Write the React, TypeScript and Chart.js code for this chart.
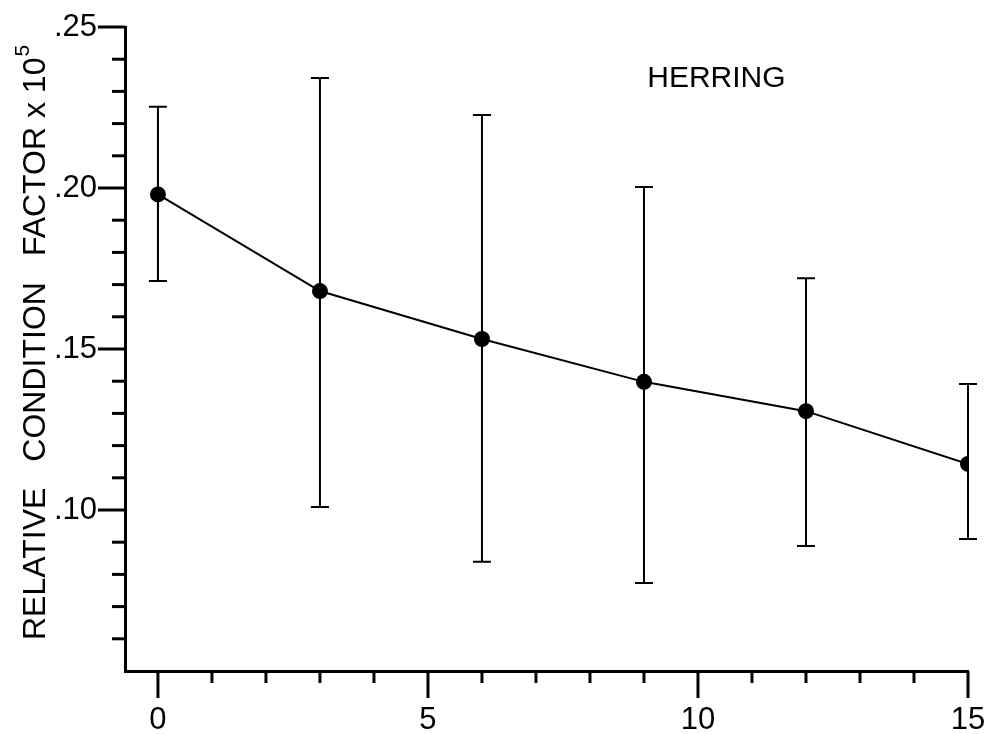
import React, { useEffect, useRef } from "react";
import { Chart, registerables } from "chart.js";

Chart.register(...registerables);

// ---- data ----
const ages = [0, 3, 6, 9, 12, 15];
const condition = [0.198, 0.168, 0.1531, 0.1398, 0.1307, 0.1143];
const upper = [0.2252, 0.2342, 0.2227, 0.2003, 0.172, 0.1391];
const lower = [0.1711, 0.1009, 0.0839, 0.0773, 0.0888, 0.091];
const xTickValues = [0, 1, 2, 3, 4, 5, 6, 7, 8, 9, 10, 11, 12, 13, 14, 15];
const xLabelValues = [0, 5, 10, 15];
const yTickValues = [0.06, 0.07, 0.08, 0.09, 0.1, 0.11, 0.12, 0.13, 0.14, 0.15, 0.16, 0.17, 0.18, 0.19, 0.2, 0.21, 0.22, 0.23, 0.24, 0.25];
const yLabelValues = [0.1, 0.15, 0.2, 0.25];
const yTitleWords = ["RELATIVE", "CONDITION", "FACTOR x 10"];
const yTitleSup = "5";
const annotation = "HERRING";

const FONT = "'Liberation Sans', Arial, Helvetica, sans-serif";

const near = (a: number, b: number) => Math.abs(a - b) < 1e-6;

const decorPlugin = {
  id: "decor",
  beforeDatasetsDraw(chart: any) {
    const { ctx } = chart;
    const xs = chart.scales.x;
    const ys = chart.scales.y;
    ctx.save();
    ctx.strokeStyle = "#000";
    ctx.lineWidth = 2;
    const cap = 9;
    ages.forEach((a, i) => {
      const px = xs.getPixelForValue(a);
      const pt = ys.getPixelForValue(upper[i]);
      const pb = ys.getPixelForValue(lower[i]);
      ctx.beginPath();
      ctx.moveTo(px, pt);
      ctx.lineTo(px, pb);
      ctx.moveTo(px - cap, pt);
      ctx.lineTo(px + cap, pt);
      ctx.moveTo(px - cap, pb);
      ctx.lineTo(px + cap, pb);
      ctx.stroke();
    });
    ctx.restore();
  },
  afterDraw(chart: any) {
    const { ctx, chartArea } = chart;
    const xs = chart.scales.x;
    const ys = chart.scales.y;
    ctx.save();
    ctx.strokeStyle = "#000";
    ctx.lineWidth = 3;
    ctx.lineCap = "butt";
    // y ticks
    yTickValues.forEach((v) => {
      const major = yLabelValues.some((l) => near(l, v));
      const len = major ? 27 : 13;
      const py = ys.getPixelForValue(v);
      ctx.beginPath();
      ctx.moveTo(chartArea.left, py);
      ctx.lineTo(chartArea.left - len, py);
      ctx.stroke();
    });
    // x ticks
    xTickValues.forEach((v) => {
      const major = xLabelValues.some((l) => near(l, v));
      const len = major ? 27 : 12;
      const px = xs.getPixelForValue(v);
      ctx.beginPath();
      ctx.moveTo(px, chartArea.bottom);
      ctx.lineTo(px, chartArea.bottom + len);
      ctx.stroke();
    });

    // annotation
    ctx.fillStyle = "#000";
    ctx.font = `30px ${FONT}`;
    ctx.textAlign = "left";
    ctx.textBaseline = "alphabetic";
    ctx.fillText(annotation, xs.getPixelForValue(9.06), ys.getPixelForValue(0.2314));

    // y title (rotated)
    ctx.translate(45, 640);
    ctx.rotate(-Math.PI / 2);
    ctx.font = `32px ${FONT}`;
    const gap = 26;
    let x = 0;
    yTitleWords.forEach((w) => {
      ctx.fillText(w, x, 0);
      x += ctx.measureText(w).width + gap;
    });
    x -= gap;
    ctx.font = `21px ${FONT}`;
    ctx.fillText(yTitleSup, x + 1, -16);
    ctx.restore();
  },
};

export default function App() {
  const ref = useRef<HTMLCanvasElement | null>(null);
  useEffect(() => {
    if (!ref.current) return;
    const chart = new Chart(ref.current, {
      type: "line",
      data: {
        datasets: [
          {
            data: ages.map((a, i) => ({ x: a, y: condition[i] })),
            borderColor: "#000",
            backgroundColor: "#000",
            borderWidth: 2,
            pointRadius: 8,
            pointBackgroundColor: "#000",
            pointBorderWidth: 0,
            tension: 0,
            fill: false,
          },
        ],
      },
      plugins: [decorPlugin],
      options: {
        responsive: false,
        animation: false,
        events: [],
        layout: { padding: { top: 27, right: 22, left: 0, bottom: 0 } },
        plugins: {
          legend: { display: false },
          tooltip: { enabled: false },
          title: { display: false },
        },
        scales: {
          x: {
            type: "linear",
            min: -0.61,
            max: 15,
            afterBuildTicks: (s: any) => {
              s.ticks = xLabelValues.map((v) => ({ value: v }));
            },
            afterFit: (s: any) => {
              s.height = 63;
            },
            border: { display: true, color: "#000", width: 3 },
            grid: { display: false, drawTicks: true, tickLength: 27 },
            ticks: {
              autoSkip: false,
              maxRotation: 0,
              padding: 4,
              color: "#000",
              font: { family: FONT, size: 31 },
              callback: (v: any) => String(Math.round(Number(v))),
            },
          },
          y: {
            type: "linear",
            min: 0.05,
            max: 0.25,
            afterBuildTicks: (s: any) => {
              s.ticks = yLabelValues.map((v) => ({ value: v }));
            },
            afterFit: (s: any) => {
              s.width = 125;
            },
            border: { display: true, color: "#000", width: 3 },
            grid: { display: false, drawTicks: true, tickLength: 27 },
            ticks: {
              autoSkip: false,
              padding: 1,
              color: "#000",
              font: { family: FONT, size: 31 },
              callback: (v: any) => Number(v).toFixed(2).replace(/^0/, ""),
            },
          },
        },
      },
    });
    return () => chart.destroy();
  }, []);
  return (
    <div style={{ position: "absolute", left: 0, top: 0, width: 990, height: 734, background: "#fff" }}>
      <canvas ref={ref} width={990} height={734} style={{ display: "block" }} />
    </div>
  );
}
